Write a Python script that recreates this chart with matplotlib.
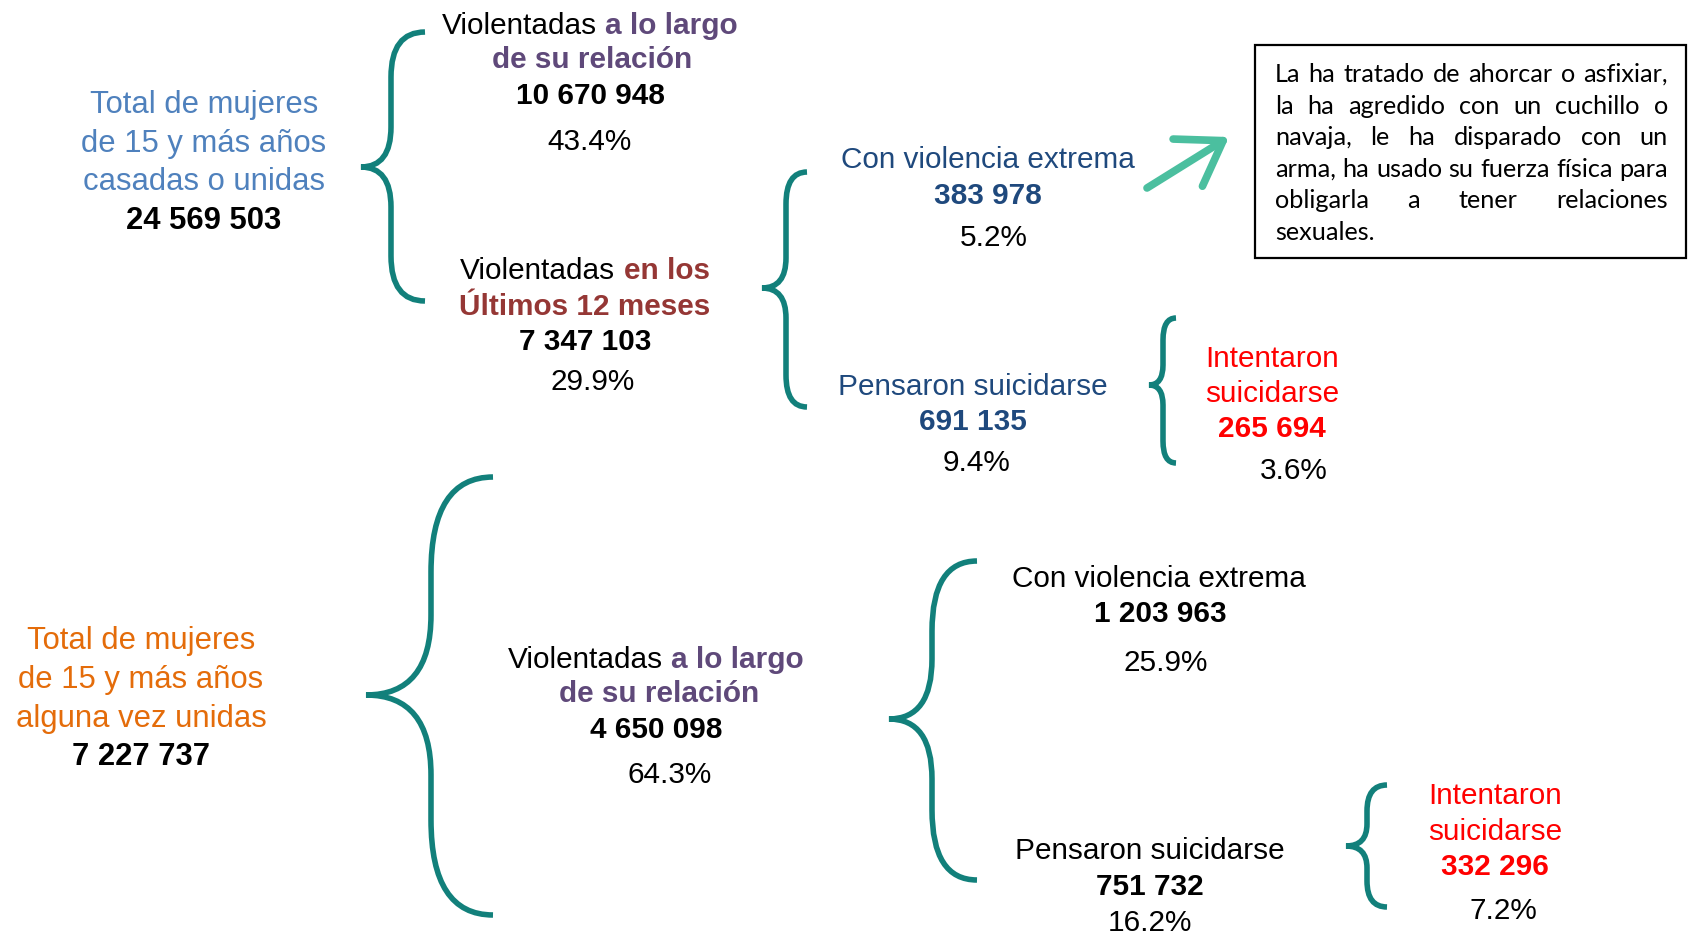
import matplotlib
matplotlib.use("Agg")
import matplotlib.pyplot as plt
from matplotlib.path import Path
from matplotlib.patches import PathPatch, FancyArrowPatch, Rectangle

# datos
grupos = ["casadas o unidas", "alguna vez unidas"]
totales = ["24 569 503", "7 227 737"]
violentadas_relacion = ["10 670 948", "4 650 098"]
pct_relacion = ["43.4%", "64.3%"]
violentadas_12m = "7 347 103"
pct_12m = "29.9%"
extrema = ["383 978", "1 203 963"]
pct_extrema = ["5.2%", "25.9%"]
pensaron = ["691 135", "751 732"]
pct_pensaron = ["9.4%", "16.2%"]
intentaron = ["265 694", "332 296"]
pct_intentaron = ["3.6%", "7.2%"]
nota = ["La ha tratado de ahorcar o asfixiar,",
        "la ha agredido con un cuchillo o",
        "navaja, le ha disparado con un",
        "arma, ha usado su fuerza física para",
        "obligarla a tener relaciones",
        "sexuales."]

# colores
TEAL = "#12807B"
AZUL = "#4F81BD"
NARANJA = "#E46C0A"
MORADO = "#5F497A"
GUINDA = "#953735"
AZUL_OSC = "#1F497D"
ROJO = "#FF0000"
MENTA = "#4BBF9F"

W, H = 1688, 935
fig = plt.figure(figsize=(16.88, 9.35), dpi=100)
ax = fig.add_axes([0, 0, 1, 1])
ax.set_xlim(0, W)
ax.set_ylim(H, 0)
ax.axis("off")
renderer = fig.canvas.get_renderer()

FONT = "Liberation Sans"
FS = 21.4
CAP = 11  # mitad de la altura de mayúsculas en px


def ancho(s, **kw):
    t = ax.text(0, 0, s, **kw)
    w = t.get_window_extent(renderer).width
    t.remove()
    return w


def linea(x, y, partes, fs=FS):
    # partes: lista de (texto, color, peso) centrada en x
    sp = ancho("x x", family=FONT, size=fs) - ancho("xx", family=FONT, size=fs)
    ws = [ancho(p[0], family=FONT, size=fs, weight=p[2]) for p in partes]
    total = sum(ws) + sp * (len(partes) - 1)
    x0 = x - total / 2
    for (s, c, wt), w in zip(partes, ws):
        ax.text(x0, y + CAP, s, color=c, weight=wt, family=FONT, size=fs,
                ha="left", va="baseline")
        x0 += w + sp


def t(x, y, s, color="black", weight="normal", fs=FS):
    ax.text(x, y + CAP, s, color=color, weight=weight, family=FONT, size=fs,
            ha="center", va="baseline")


def llave(xe, xs, xt, yt, yb, ym, r1, r2):
    verts = [(xe, yt), (xs, yt), (xs, yt + r1),
             (xs, ym - r2), (xs, ym), (xt, ym),
             (xs, ym), (xs, ym + r2),
             (xs, yb - r1), (xs, yb), (xe, yb)]
    codes = [Path.MOVETO, Path.CURVE3, Path.CURVE3,
             Path.LINETO, Path.CURVE3, Path.CURVE3,
             Path.CURVE3, Path.CURVE3,
             Path.LINETO, Path.CURVE3, Path.CURVE3]
    ax.add_patch(PathPatch(Path(verts, codes), fill=False, lw=4,
                           edgecolor=TEAL, capstyle="butt"))


FS_L = 22.3  # bloques de la izquierda, algo mayores

# ---------- parte superior ----------
t(204, 102, "Total de mujeres", AZUL, fs=FS_L)
t(204, 141, "de 15 y más años", AZUL, fs=FS_L)
t(204, 179, grupos[0], AZUL, fs=FS_L)
t(204, 218, totales[0], weight="bold", fs=FS_L)

llave(425, 391, 361, 32, 301, 167, 45, 40)

linea(590, 23, [("Violentadas", "black", "normal"), ("a lo largo", MORADO, "bold")])
t(592, 57, "de su relación", MORADO, "bold")
t(590, 93, violentadas_relacion[0], weight="bold")
t(590, 139, pct_relacion[0])

linea(585, 268, [("Violentadas", "black", "normal"), ("en los", GUINDA, "bold")])
t(585, 304, "Últimos 12 meses", GUINDA, "bold")
t(585, 339, violentadas_12m, weight="bold")
t(593, 379, pct_12m)

llave(807, 786, 762, 172, 407, 288, 32, 30)

t(988, 157, "Con violencia extrema", AZUL_OSC)
t(988, 193, extrema[0], AZUL_OSC, "bold")
t(994, 235, pct_extrema[0])

t(973, 384, "Pensaron suicidarse", AZUL_OSC)
t(973, 419, pensaron[0], AZUL_OSC, "bold")
t(977, 460, pct_pensaron[0])

llave(1176, 1163, 1149, 318, 463, 385, 22, 20)

t(1272, 356, "Intentaron", ROJO)
t(1272, 391, "suicidarse", ROJO)
t(1272, 426, intentaron[0], ROJO, "bold")
t(1294, 468, pct_intentaron[0])

# flecha y recuadro
ax.add_patch(FancyArrowPatch((1147, 188), (1229, 137),
                             arrowstyle="->,head_length=0.75,head_width=0.5",
                             mutation_scale=40, lw=5.5, color=MENTA,
                             capstyle="round", joinstyle="round",
                             shrinkA=0, shrinkB=0))
ax.add_patch(Rectangle((1255, 45), 431, 213, fill=False, lw=1.6,
                       edgecolor="black"))

NFONT = "Lato"
izq, der = 1275, 1668
NFS = 19.0
while max(ancho(ln, family=NFONT, size=NFS) for ln in nota) > der - izq:
    NFS -= 0.2
sp_n = ancho("x x", family=NFONT, size=NFS) - ancho("xx", family=NFONT, size=NFS)
for i, ln in enumerate(nota):
    y = 74 + i * 31.6 + 8
    palabras = ln.split()
    ws = [ancho(p, family=NFONT, size=NFS) for p in palabras]
    if i == len(nota) - 1:
        gap = sp_n
    else:
        gap = (der - izq - sum(ws)) / (len(palabras) - 1)
    x0 = izq
    for p, w in zip(palabras, ws):
        ax.text(x0, y, p, family=NFONT, size=NFS, ha="left", va="baseline")
        x0 += w + gap

# ---------- parte inferior ----------
t(141, 638, "Total de mujeres", NARANJA, fs=FS_L)
t(141, 677, "de 15 y más años", NARANJA, fs=FS_L)
t(141, 716, grupos[1], NARANJA, fs=FS_L)
t(141, 754, totales[1], weight="bold", fs=FS_L)

llave(493, 431, 366, 477, 915, 695, 95, 80)

linea(656, 657, [("Violentadas", "black", "normal"), ("a lo largo", MORADO, "bold")])
t(659, 691, "de su relación", MORADO, "bold")
t(656, 727, violentadas_relacion[1], weight="bold")
t(670, 772, pct_relacion[1])

llave(977, 932, 889, 561, 880, 719, 70, 60)

t(1159, 576, "Con violencia extrema")
t(1160, 611, extrema[1], weight="bold")
t(1166, 660, pct_extrema[1])

t(1150, 848, "Pensaron suicidarse")
t(1150, 884, pensaron[1], weight="bold")
t(1150, 920, pct_pensaron[1])

llave(1387, 1367, 1346, 785, 907, 846, 26, 22)

t(1495, 793, "Intentaron", ROJO)
t(1495, 829, "suicidarse", ROJO)
t(1495, 864, intentaron[1], ROJO, "bold")
t(1503, 908, pct_intentaron[1])

fig.savefig("out.png", dpi=100, facecolor="white")
